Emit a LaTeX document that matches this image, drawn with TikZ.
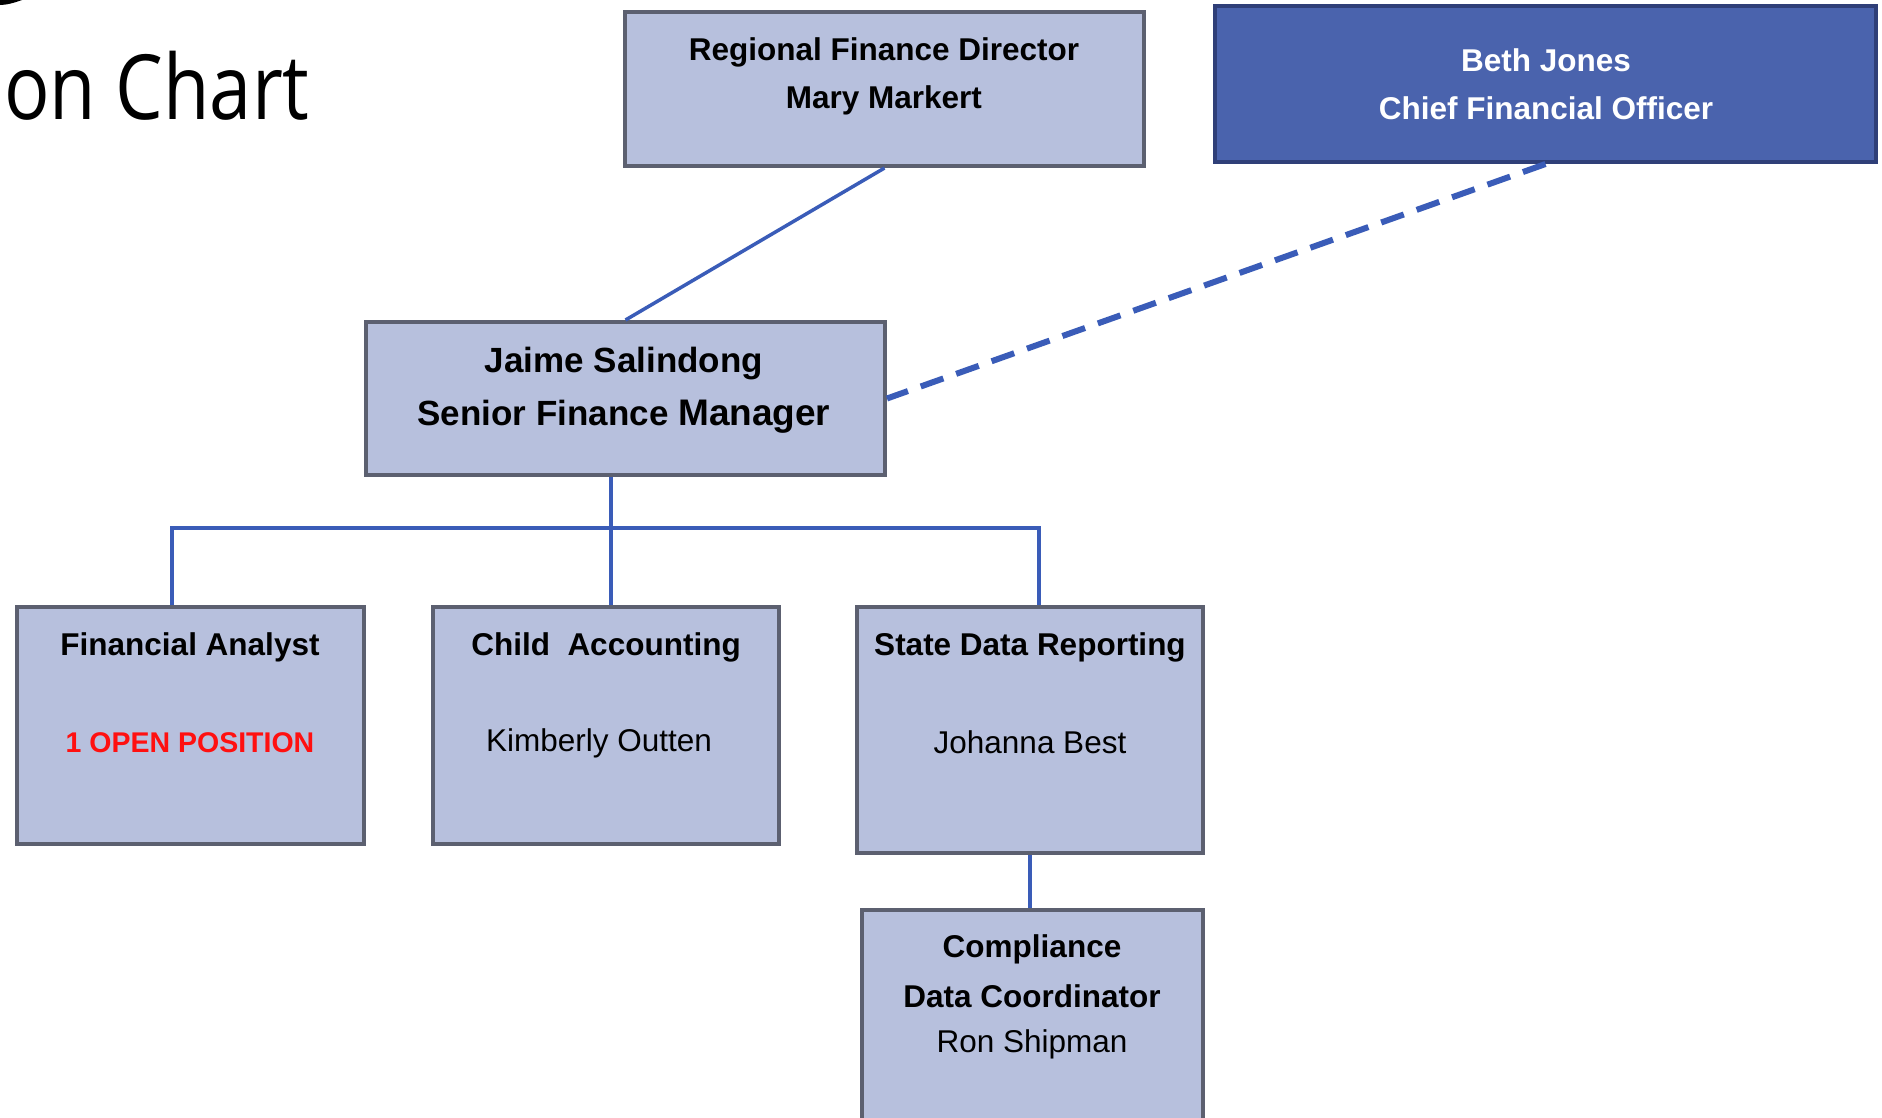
\documentclass[tikz,border=0pt]{standalone}
\usepackage{fontspec}
\setmainfont{Liberation Sans}
\newfontfamily\titlefont{Open Sans}
\definecolor{boxfill}{HTML}{B7C0DD}
\definecolor{boxedge}{HTML}{5C6070}
\definecolor{bethfill}{HTML}{4A63AD}
\definecolor{bethedge}{HTML}{2F3F78}
\definecolor{conn}{HTML}{3A5CB8}
\definecolor{openred}{HTML}{FF1010}
\tikzset{
  orgbox/.style={draw=boxedge, fill=boxfill, line width=4pt, rectangle, inner sep=0pt},
  bethbox/.style={draw=bethedge, fill=bethfill, line width=4pt, rectangle, inner sep=0pt},
  txt/.style={inner sep=0pt, font=\fontsize{31.5}{36}\selectfont\bfseries, text=black},
  txtreg/.style={inner sep=0pt, font=\fontsize{31.5}{36}\selectfont, text=black},
  bigtxt/.style={inner sep=0pt, font=\fontsize{35}{40}\selectfont\bfseries, text=black},
  link/.style={draw=conn, line width=3.5pt},
  dotted link/.style={draw=conn, line width=6pt, dash pattern=on 24pt off 13.6pt},
}
\begin{document}
\begin{tikzpicture}[x=1pt,y=-1pt]
\useasboundingbox (0,0) rectangle (1882,1117);
\clip (0,0) rectangle (1882,1117);
\fill[white] (0,0) rectangle (1882,1117);

% title fragment
\node[inner sep=0pt, anchor=base west, font=\titlefont\fontsize{90}{100}\selectfont] (title) at (4,119) {\scalebox{0.84}[1]{on Chart}};
\coordinate (arcA) at (0,0);
\coordinate (arcB) at (22,0);
\fill[black] (arcA) -- (arcB) .. controls (14,3) and (6,5) .. (0,5) -- cycle;

% boxes
\node[orgbox, minimum width=519pt, minimum height=154pt] (rfd) at (884.5,89) {};
\node[bethbox, minimum width=661pt, minimum height=156pt] (beth) at (1545.5,84) {};
\node[orgbox, minimum width=519pt, minimum height=153pt] (jaime) at (625.5,398.5) {};
\node[orgbox, minimum width=347pt, minimum height=237pt] (fa) at (190.5,725.5) {};
\node[orgbox, minimum width=346pt, minimum height=237pt] (ca) at (606,725.5) {};
\node[orgbox, minimum width=346pt, minimum height=246pt] (sdr) at (1030,730) {};
\node[orgbox, minimum width=341pt, minimum height=240pt] (cdc) at (1032.5,1030) {};

% texts
\node[txt] (rfd1) at (884,52) {Regional Finance Director};
\node[txt] (rfd2) at (884,100) {Mary Markert};
\node[txt, text=white] (beth1) at (1546,60) {Beth Jones};
\node[txt, text=white] (beth2) at (1546,108) {Chief Financial Officer};
\node[bigtxt] (jaime1) at (624,364) {Jaime Salindong};
\node[bigtxt] (jaime2) at (624,417) {Senior Finance \fontsize{37}{40}\selectfont Manager};
\node[txt] (fa1) at (190,647) {Financial Analyst};
\node[txt, text=openred, font=\fontsize{28.5}{34}\selectfont\bfseries] (fa2) at (190,743) {1 OPEN POSITION};
\node[txt] (ca1) at (606,647) {Child\ \ Accounting};
\node[txtreg] (ca2) at (599,743) {Kimberly Outten};
\node[txt] (sdr1) at (1030,647) {State Data Reporting};
\node[txtreg] (sdr2) at (1030,742) {Johanna Best};
\node[txt] (cdc1) at (1032,949) {Compliance};
\node[txt] (cdc2) at (1032,996) {Data Coordinator};
\node[txtreg] (cdc3) at (1032,1044) {Ron Shipman};

% connectors
\draw[link] (rfd.south) -- (jaime.north);
\draw[dotted link] (beth.south) -- (jaime.east);
\coordinate (busL) at (172,528);
\coordinate (busM) at (611,528);
\coordinate (busR) at (1039,528);
\draw[link] (busL |- fa.north) -- (busL) -- (busR) -- (busR |- sdr.north);
\draw[link] (busM |- jaime.south) -- (busM |- ca.north);
\draw[link] (sdr.south) -- (sdr.south |- cdc.north);
\end{tikzpicture}
\end{document}
